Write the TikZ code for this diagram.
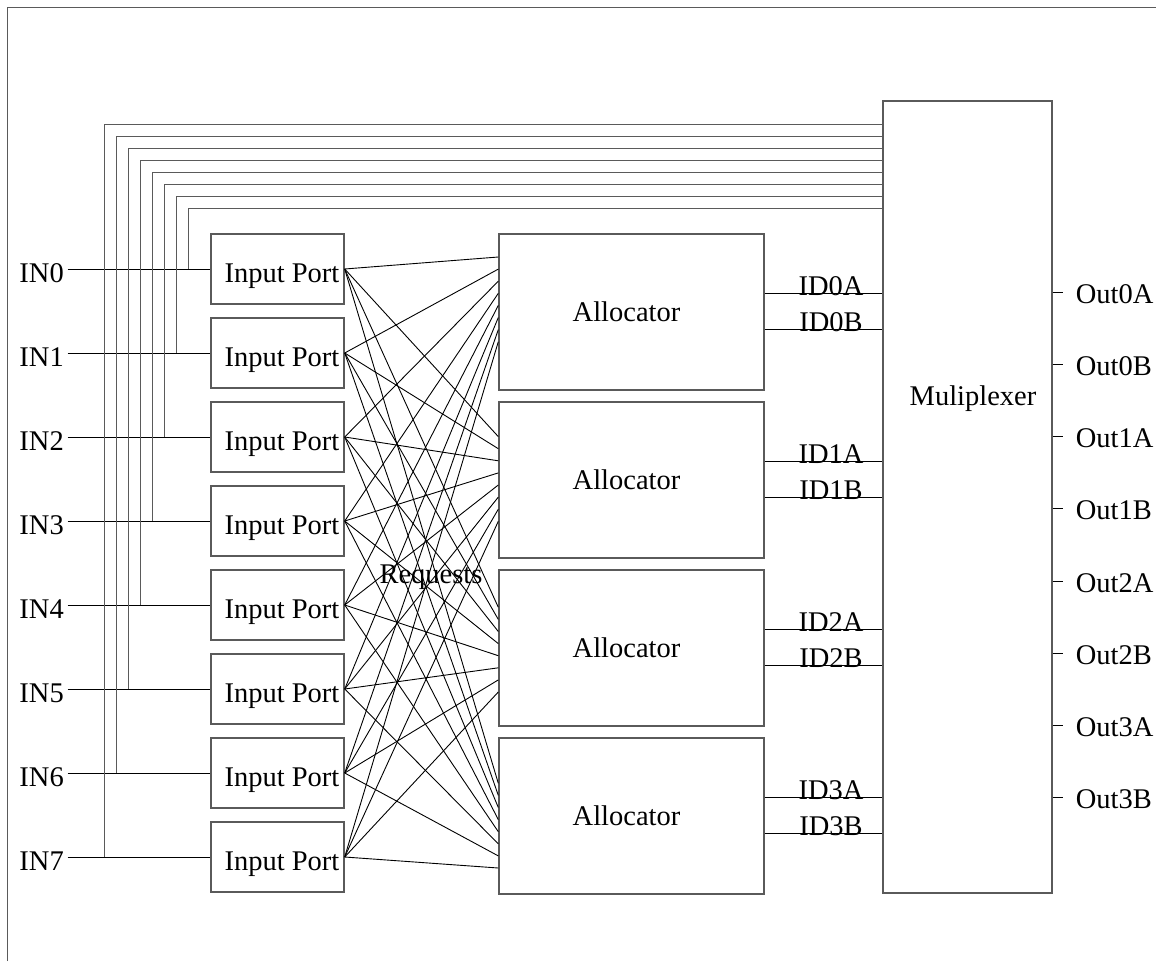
\documentclass[tikz,border=0pt]{standalone}
\usepackage{fontspec}
\setmainfont{Liberation Serif}
\usetikzlibrary{calc}
\definecolor{edgegray}{RGB}{90,90,90}
\begin{document}
\begin{tikzpicture}[x=1pt,y=-1pt,
  box/.style={draw=edgegray,line width=1.4pt,inner sep=0pt,rectangle},
  port/.style={box,minimum width=133pt,minimum height=70pt},
  alloc/.style={box,minimum width=265pt,minimum height=156pt},
  txt/.style={font=\fontsize{28.5}{30}\selectfont,inner sep=0pt},
  wire/.style={black,line width=0.9pt},
  bus/.style={edgegray,line width=1.2pt},
  frame/.style={edgegray,line width=1.4pt}]
\useasboundingbox (0,0) rectangle (1156,961);
% outer frame (left and top edges only)
\draw[frame] (7.5,961) -- (7.5,7.5) -- (1156,7.5);

% multiplexer
\node[box,minimum width=169pt,minimum height=792pt] (mux) at (967.5,497) {};
\node[txt,anchor=base] at (973,405) {Muliplexer};

% input ports, input labels and feedback bus to the multiplexer
\foreach \i in {0,...,7}{
  \pgfmathsetmacro\py{269+84*\i}
  \node[port] (p\i) at (277.5,\py) {};
  \node[txt,anchor=base] at (282,{\py+13.5}) {Input Port};
  \node[txt,anchor=base east] (in\i) at (64,{\py+13.5}) {IN\i};
  \coordinate (s\i) at (67.5,\py);
  \coordinate (t\i) at ({188.3-12*\i},\py);
  \draw[bus] (t\i) |- ($(mux.north west)+(0,{108.3-12*\i})$);
  \draw[wire] (s\i) -- (p\i.west);
}

% allocators with their grant lines
\foreach \j in {0,...,3}{
  \node[alloc] (a\j) at (631.5,{312+168*\j}) {};
  \node[txt,anchor=base] at (626.5,{321+168*\j}) {Allocator};
  \coordinate (ga\j) at ($(a\j.north east)+(0,60)$);
  \coordinate (gb\j) at ($(a\j.north east)+(0,96)$);
  \draw[wire] (ga\j) -- (ga\j -| mux.west);
  \draw[wire] (gb\j) -- (gb\j -| mux.west);
  \node[txt,anchor=base] at (831,{295+168*\j}) {ID\j A};
  \node[txt,anchor=base] at (831,{331+168*\j}) {ID\j B};
}

% request lines: every input port to every allocator
\foreach \j/\o in {0/23.7,1/35.3,2/38,3/46}{
  \foreach \i in {0,...,7}{
    \draw[wire] (p\i.east) -- ($(a\j.north west)+(0,{\o+12.1*\i})$);
  }
}
\node[txt,anchor=base] at (431,583) {Requests};

% multiplexer outputs
\foreach \k/\n in {0/Out0A,1/Out0B,2/Out1A,3/Out1B,4/Out2A,5/Out2B,6/Out3A,7/Out3B}{
  \coordinate (o\k) at ($(mux.north east)+(0,{192+72.2*\k})$);
  \coordinate (oe\k) at ($(o\k)+(10,0)$);
  \draw[wire] (o\k) -- (oe\k);
  \node[txt,anchor=base west] at ($(o\k)+(23,11)$) {\n};
}
\end{tikzpicture}
\end{document}
